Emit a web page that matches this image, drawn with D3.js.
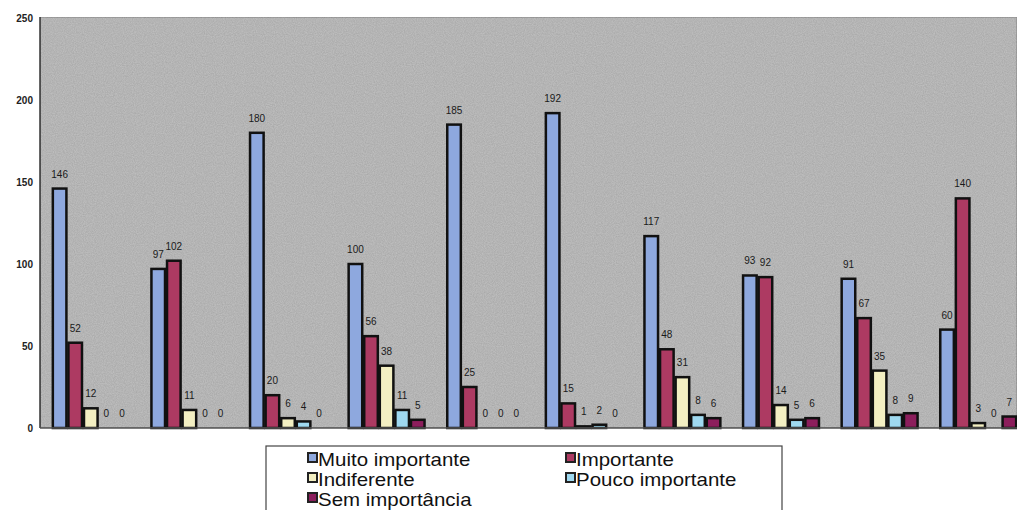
<!DOCTYPE html>
<html>
<head>
<meta charset="utf-8">
<script src="https://cdn.jsdelivr.net/npm/d3@7"></script>
<style>
  html, body { margin: 0; padding: 0; background: #fff; overflow: hidden; }
  svg { display: block; font-family: "Liberation Sans", Arial, sans-serif; }
</style>
</head>
<body>
<script>
// data
const groups = ['G1', 'G2', 'G3', 'G4', 'G5', 'G6', 'G7', 'G8', 'G9', 'G10'];
const seriesNames = ['Muito importante', 'Importante', 'Indiferente', 'Pouco importante', 'Sem importância'];
const muitoImportante = [146, 97, 180, 100, 185, 192, 117, 93, 91, 60];
const importante      = [52, 102, 20, 56, 25, 15, 48, 92, 67, 140];
const indiferente     = [12, 11, 6, 38, 0, 1, 31, 14, 35, 3];
const poucoImportante = [0, 0, 4, 11, 0, 2, 8, 5, 8, 0];
const semImportancia  = [0, 0, 0, 5, 0, 0, 6, 6, 9, 7];
const yTicks = [0, 50, 100, 150, 200, 250];
const colours = ['#8ea8de', '#ad3a62', '#f3efc2', '#9fd9f0', '#8c1e5c'];

const allSeries = [muitoImportante, importante, indiferente, poucoImportante, semImportancia];

const W = 1017, H = 510;
const svg = d3.select('body').append('svg')
    .attr('width', W)
    .attr('height', H);

// grainy grey background for the plot area
const defs = svg.append('defs');
const grain = defs.append('filter').attr('id', 'grain')
    .attr('x', 0).attr('y', 0).attr('width', '100%').attr('height', '100%');
grain.append('feTurbulence')
    .attr('type', 'fractalNoise')
    .attr('baseFrequency', 0.9)
    .attr('numOctaves', 2)
    .attr('seed', 3)
    .attr('result', 'noise');
grain.append('feColorMatrix')
    .attr('in', 'noise')
    .attr('type', 'matrix')
    .attr('values', '0 0 0 0 0  0 0 0 0 0  0 0 0 0 0  0 0 0 0.3 0')
    .attr('result', 'dots');
grain.append('feComposite').attr('in', 'dots').attr('in2', 'SourceGraphic').attr('operator', 'atop');

const plotLeft = 40, plotTop = 17, plotBottom = 428;

const x = d3.scaleBand()
    .domain(groups)
    .range([plotLeft, 1029])
    .paddingInner(0.21)
    .paddingOuter(0.12);

const xs = d3.scaleBand()
    .domain(d3.range(seriesNames.length))
    .range([0, x.bandwidth()]);

const y = d3.scaleLinear()
    .domain([0, 250])
    .range([plotBottom, 18]);

svg.append('rect')
    .attr('x', plotLeft).attr('y', plotTop)
    .attr('width', W - plotLeft).attr('height', plotBottom - plotTop)
    .attr('fill', '#c2c2c2')
    .attr('stroke', '#8a8a8a')
    .attr('filter', 'url(#grain)');

// y tick labels
svg.append('g')
    .selectAll('text')
    .data(yTicks)
    .enter().append('text')
    .attr('x', 33)
    .attr('y', d => y(d))
    .attr('dy', '0.35em')
    .attr('text-anchor', 'end')
    .attr('font-size', 10)
    .attr('font-weight', 'bold')
    .attr('fill', '#222')
    .text(d => d);

// bars
const rows = groups.map((g, i) => allSeries.map((s, j) => ({ g, j, v: s[i] })));
const groupSel = svg.append('g')
    .selectAll('g')
    .data(rows)
    .enter().append('g')
    .attr('transform', d => `translate(${x(d[0].g)},0)`);

groupSel.selectAll('rect')
    .data(d => d.filter(b => b.v > 0))
    .enter().append('rect')
    .attr('x', d => xs(d.j) + 1)
    .attr('y', d => y(d.v))
    .attr('width', xs.bandwidth() - 2)
    .attr('height', d => y(0) - y(d.v))
    .attr('fill', d => colours[d.j])
    .attr('stroke', '#111')
    .attr('stroke-width', 2.5);

groupSel.selectAll('text')
    .data(d => d)
    .enter().append('text')
    .attr('x', d => xs(d.j) + xs.bandwidth() / 2)
    .attr('y', d => y(d.v) - 11)
    .attr('text-anchor', 'middle')
    .attr('font-size', 10)
    .attr('fill', '#1a1a1a')
    .text(d => d.v);

// axes lines
svg.append('line')
    .attr('x1', plotLeft).attr('x2', plotLeft)
    .attr('y1', plotTop).attr('y2', plotBottom)
    .attr('stroke', '#333').attr('stroke-width', 1.5);
svg.append('line')
    .attr('x1', plotLeft).attr('x2', W)
    .attr('y1', plotBottom).attr('y2', plotBottom)
    .attr('stroke', '#555').attr('stroke-width', 1.5);

// legend
const legend = svg.append('g');
legend.append('rect')
    .attr('x', 266).attr('y', 446)
    .attr('width', 516).attr('height', 90)
    .attr('fill', '#fff')
    .attr('stroke', '#444')
    .attr('stroke-width', 1.2);

const legendPos = [[308, 466], [566, 466], [308, 486], [566, 486], [308, 506]];
const item = legend.selectAll('g.item')
    .data(seriesNames)
    .enter().append('g')
    .attr('class', 'item')
    .attr('transform', (d, i) => `translate(${legendPos[i][0]},${legendPos[i][1]})`);
item.append('rect')
    .attr('x', 0).attr('y', -13)
    .attr('width', 9).attr('height', 9)
    .attr('fill', (d, i) => colours[i])
    .attr('stroke', '#222')
    .attr('stroke-width', 2);
item.append('text')
    .attr('transform', 'translate(10,0) scale(1.17,1)')
    .attr('font-size', 17.5)
    .attr('fill', '#111')
    .text(d => d);
</script>
</body>
</html>
